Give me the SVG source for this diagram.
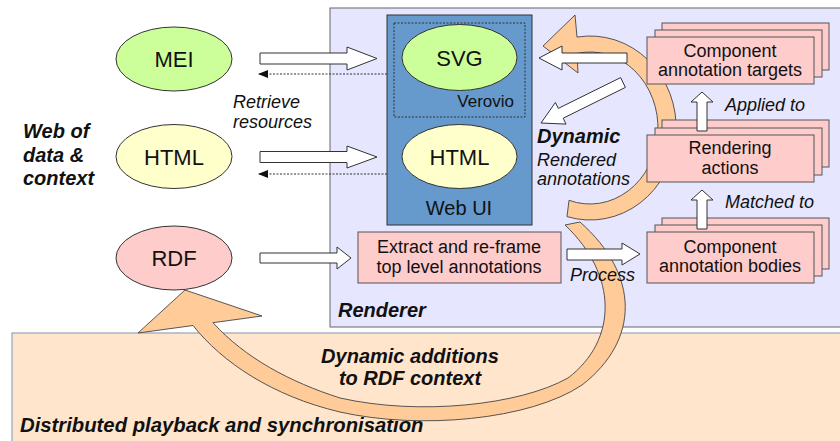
<svg xmlns="http://www.w3.org/2000/svg" width="840" height="441" viewBox="0 0 840 441">
<defs>
<style>
.t{font-family:"Liberation Sans",Arial,sans-serif;fill:#111}
.c{text-anchor:middle}
.i{font-style:italic}
.b{font-weight:bold}
.box{fill:#ffcccc;stroke:#555;stroke-width:1}
.hol{fill:#fff;stroke:#333;stroke-width:1}
.org{fill:#ffcc99;stroke:#444;stroke-width:0.9}
.dot{stroke:#333;stroke-width:1;stroke-dasharray:2 1.5;fill:none}
</style>
<marker id="ah" markerUnits="userSpaceOnUse" markerWidth="10" markerHeight="8" refX="10" refY="4" orient="auto">
<path d="M0,0 L10,4 L0,8 Z" fill="#111"/>
</marker>
</defs>
<rect width="840" height="441" fill="#fff"/>

<g id="renderer-panel">
<rect x="330" y="8" width="520" height="319" fill="#e6e6ff" stroke="#666" stroke-width="1"/>
<text class="t i b" x="338" y="317" font-size="20">Renderer</text>
</g>
<g id="playback-panel">
<rect x="12" y="333" width="840" height="120" fill="#ffe5cb" stroke="#a8b4c4" stroke-width="1.5"/>
<text class="t i b" x="20" y="432" font-size="20.3">Distributed playback and synchronisation</text>
</g>

<g id="connectors">
<path class="org" d="M567,216.6 A86,92 0 1 0 577,37.1 L575,15 L543,46 L578,73 L577,53.4 A68,76 0 1 1 569,200.3 Z"/>
<path class="org" d="M580,222 C640,275 640,340 582,385 C530,420 420,430 340,412 C272,396 222,362 193,325.5 L138,333 L185,290 L262,316 L213,322.7 C245,358 290,382 340,398 C420,416 520,405 568,378 C618,340 618,275 565,225 Z"/>
</g>

<g id="node-mei">
<ellipse cx="174" cy="59" rx="58" ry="32" fill="#ccff99" stroke="#333"/>
<text class="t c" x="174" y="67" font-size="22">MEI</text>
</g>
<g id="node-html-web">
<ellipse cx="174" cy="156.5" rx="58" ry="32" fill="#ffffcc" stroke="#333"/>
<text class="t c" x="174" y="164.5" font-size="22">HTML</text>
</g>
<g id="node-rdf">
<ellipse cx="174" cy="258" rx="58" ry="32" fill="#ffcccc" stroke="#333"/>
<text class="t c" x="174" y="266" font-size="22">RDF</text>
</g>
<g id="label-web">
<text class="t i b" font-size="20" x="23"><tspan x="23" y="138">Web of</tspan><tspan x="23" y="162">data &amp;</tspan><tspan x="23" y="185">context</tspan></text>
</g>

<g id="node-webui">
<rect x="387" y="15" width="145" height="210" fill="#6699cc" stroke="#333"/>
<text class="t c" x="459" y="215" font-size="20">Web UI</text>
</g>
<g id="node-verovio">
<rect class="dot" x="394" y="23" width="131" height="94"/>
<text class="t" x="514" y="107" font-size="17" text-anchor="end">Verovio</text>
</g>
<g id="node-svg">
<ellipse cx="459.5" cy="57.5" rx="57.5" ry="33" fill="#ccff99" stroke="#333"/>
<text class="t c" x="459.5" y="65.5" font-size="22">SVG</text>
</g>
<g id="node-html-ui">
<ellipse cx="459.5" cy="156.5" rx="57.5" ry="32" fill="#ffffcc" stroke="#333"/>
<text class="t c" x="459.5" y="164.5" font-size="22">HTML</text>
</g>

<g id="node-extract">
<rect class="box" x="358" y="232" width="203" height="51"/>
<text class="t c" x="459" y="253" font-size="18">Extract and re-frame</text>
<text class="t c" x="459" y="273" font-size="18">top level annotations</text>
</g>

<g id="node-targets">
<rect class="box" x="662" y="23" width="167" height="47"/>
<rect class="box" x="655" y="30" width="167" height="47"/>
<rect class="box" x="647" y="37" width="167" height="47"/>
<text class="t c" x="730" y="57" font-size="18">Component</text>
<text class="t c" x="730" y="76" font-size="18">annotation targets</text>
</g>
<g id="node-actions">
<rect class="box" x="662" y="120" width="167" height="47"/>
<rect class="box" x="655" y="128" width="167" height="47"/>
<rect class="box" x="647" y="135" width="167" height="47"/>
<text class="t c" x="730" y="154" font-size="18">Rendering</text>
<text class="t c" x="730" y="174" font-size="18">actions</text>
</g>
<g id="node-bodies">
<rect class="box" x="662" y="218" width="167" height="51"/>
<rect class="box" x="655" y="225" width="167" height="51"/>
<rect class="box" x="647" y="232" width="167" height="51"/>
<text class="t c" x="730" y="253" font-size="18">Component</text>
<text class="t c" x="730" y="272" font-size="18">annotation bodies</text>
</g>

<g id="arrows">
<polygon class="hol" points="260,53 347,53 347,47 377,58.5 347,70 347,64 260,64"/>
<polygon class="hol" points="260,151.5 347,151.5 347,146 377,157 347,168 347,162.5 260,162.5"/>
<polygon class="hol" points="260,253 337,253 337,247 351,258 337,269 337,263 260,263"/>
<polygon class="hol" points="567,249 622,249 622,243 640,254 622,265 622,260 567,260"/>
<polygon class="hol" points="627,53 562,53 562,46 539,58 562,70 562,63 627,63"/>
<polygon class="hol" points="620.6,77.6 558.3,108.4 555.4,102.5 541,123 566,124.1 563.2,118.2 625.4,87.4"/>
<polygon class="hol" points="697,229 697,200 691,200 702,190 713,200 707,200 707,229"/>
<polygon class="hol" points="697,131 697,102 691,102 702,92 713,102 707,102 707,131"/>
<line class="dot" x1="387" y1="74" x2="258" y2="74" marker-end="url(#ah)"/>
<line class="dot" x1="387" y1="174" x2="258" y2="174" marker-end="url(#ah)"/>
</g>

<g id="labels">
<text class="t i" x="233" y="108" font-size="18">Retrieve</text>
<text class="t i" x="233" y="128" font-size="18">resources</text>
<text class="t i b" x="537" y="143" font-size="20">Dynamic</text>
<text class="t i" x="537" y="166" font-size="18">Rendered</text>
<text class="t i" x="537" y="185" font-size="18">annotations</text>
<text class="t i" x="725" y="111" font-size="18">Applied to</text>
<text class="t i" x="725" y="208" font-size="18">Matched to</text>
<text class="t i" x="570" y="281" font-size="18">Process</text>
<text class="t i b c" x="410" y="363" font-size="20">Dynamic additions</text>
<text class="t i b c" x="410" y="385" font-size="20">to RDF context</text>
</g>
</svg>
